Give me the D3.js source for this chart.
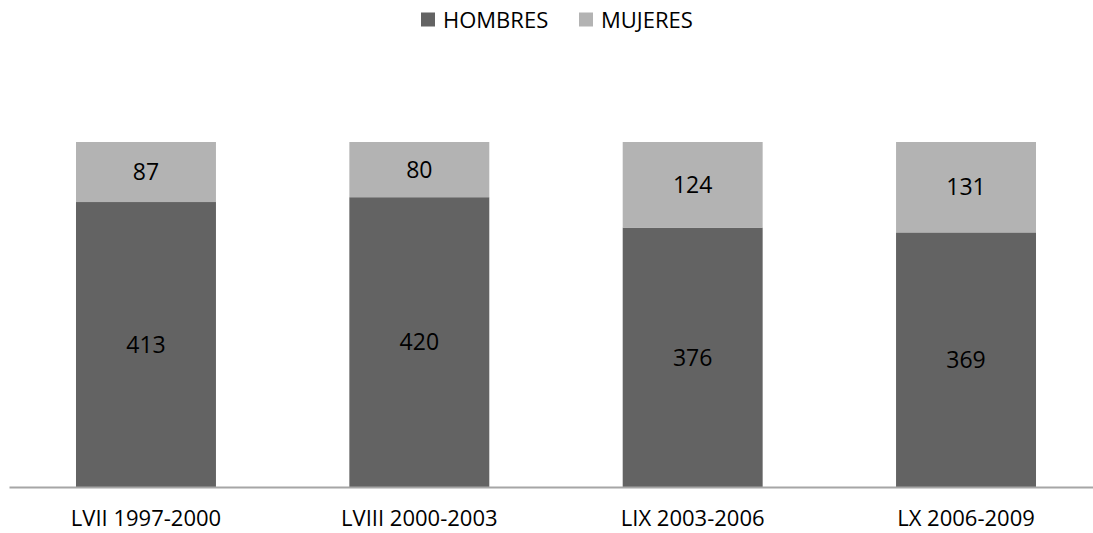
<!DOCTYPE html>
<html>
<head>
<meta charset="utf-8">
<script src="https://cdn.jsdelivr.net/npm/d3@7"></script>
<style>
  body { margin: 0; background: #fff; }
  text { font-family: "Open Sans", "Noto Sans", sans-serif; fill: #000; }
</style>
</head>
<body>
<svg id="chart" width="1093" height="533"></svg>
<script>
// data
const categories = ["LVII 1997-2000", "LVIII 2000-2003", "LIX 2003-2006", "LX 2006-2009"];
const hombres = [413, 420, 376, 369];
const mujeres = [87, 80, 124, 131];
const seriesNames = ["HOMBRES", "MUJERES"];
const seriesColors = ["#636363", "#b3b3b3"];

const svg = d3.select("#chart");

let x = d3.scaleBand()
    .domain(categories)
    .range([9.3, 1102.7])
    .paddingInner(0.488)
    .paddingOuter(0.244);

let y = d3.scaleLinear()
    .domain([0, 500])
    .range([487, 142]);

let rows = categories.map((c, i) => ({ cat: c, HOMBRES: hombres[i], MUJERES: mujeres[i] }));
let stacked = d3.stack().keys(seriesNames)(rows);

// bars
let layers = svg.selectAll("g.layer")
    .data(stacked)
    .enter().append("g")
    .attr("class", "layer")
    .attr("fill", (d, i) => seriesColors[i]);

layers.selectAll("rect")
    .data(d => d)
    .enter().append("rect")
    .attr("x", d => x(d.data.cat))
    .attr("y", d => y(d[1]))
    .attr("width", x.bandwidth())
    .attr("height", d => y(d[0]) - y(d[1]));

// value labels
layers.selectAll("text")
    .data(d => d)
    .enter().append("text")
    .attr("x", d => x(d.data.cat) + x.bandwidth() / 2)
    .attr("y", d => (y(d[0]) + y(d[1])) / 2)
    .attr("dy", "0.36em")
    .attr("text-anchor", "middle")
    .style("font-size", "23px")
    .text(d => d[1] - d[0]);

// axis
let axis = svg.append("g")
    .attr("transform", "translate(0," + y(0) + ")")
    .call(d3.axisBottom(x).tickSize(0).tickPadding(23));
axis.select(".domain").attr("d", "M9.5,0.5H1093").attr("stroke", "#a6a6a6").attr("stroke-width", 2);
axis.selectAll(".tick text")
    .style("font-size", "22px")
    .style("font-family", "'Open Sans', 'Noto Sans', sans-serif")
    .attr("fill", "#000");

// legend
let legendX = [421, 579];
let legend = svg.selectAll("g.legend")
    .data(seriesNames)
    .enter().append("g")
    .attr("class", "legend")
    .attr("transform", (d, i) => "translate(" + legendX[i] + ",0)");

legend.append("rect")
    .attr("x", 0)
    .attr("y", 12.5)
    .attr("width", 14)
    .attr("height", 14)
    .attr("fill", (d, i) => seriesColors[i]);

legend.append("text")
    .attr("x", 22)
    .attr("y", 20)
    .attr("dy", "0.36em")
    .style("font-size", "22px")
    .text(d => d);
</script>
</body>
</html>
